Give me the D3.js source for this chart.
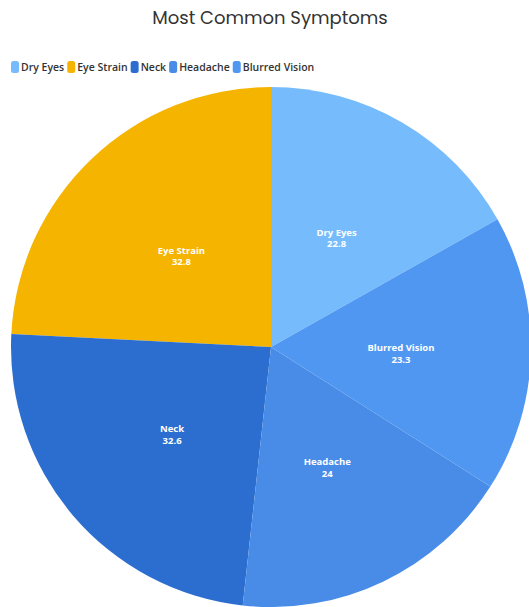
<!DOCTYPE html>
<html>
<head>
<meta charset="utf-8">
<title>Most Common Symptoms</title>
<script src="https://d3js.org/d3.v7.min.js"></script>
<style>
	body { margin: 0; background: #fff; }
	svg { display: block; }
</style>
</head>
<body>
<div id="chart"></div>
<script>
	// data
	const symptoms = ['Dry Eyes', 'Eye Strain', 'Neck', 'Headache', 'Blurred Vision'];
	const values = [22.8, 32.8, 32.6, 24, 23.3];
	const colors = ['#76bcfc', '#f5b400', '#2b6ecf', '#488ce7', '#5097f2'];

	const width = 529, height = 607;
	const cx = 271, cy = 347, radius = 260;

	const svg = d3.select('#chart').append('svg')
		.attr('width', width)
		.attr('height', height);

	const color = d3.scaleOrdinal().domain(symptoms).range(colors);

	const data = symptoms.map((s, i) => ({ name: s, value: values[i] }));

	// title
	svg.append('text')
		.attr('x', 270)
		.attr('y', 24)
		.attr('text-anchor', 'middle')
		.style('font-family', 'Poppins, "Noto Sans", sans-serif')
		.style('font-size', '18px')
		.style('fill', '#333')
		.text('Most Common Symptoms');

	// legend, laid out left to right
	const legend = svg.append('g').attr('transform', 'translate(11,67)');
	let lx = 0;
	symptoms.forEach(s => {
		const g = legend.append('g').attr('transform', `translate(${lx},0)`);
		g.append('rect')
			.attr('x', 0).attr('y', -6)
			.attr('width', 8).attr('height', 12)
			.attr('rx', 2.5)
			.style('fill', color(s));
		const t = g.append('text')
			.attr('x', 10).attr('y', 4)
			.style('font-family', '"Source Sans Pro", "Open Sans", sans-serif')
			.style('font-size', '10.5px')
			.style('font-weight', 600)
			.style('fill', '#333')
			.text(s);
		lx += 10 + t.node().getComputedTextLength() + 3;
	});

	// pie, sorted ascending clockwise from 12 o'clock
	const pie = d3.pie()
		.value(d => d.value)
		.sort((a, b) => a.value - b.value);

	const arc = d3.arc().innerRadius(0).outerRadius(radius);

	const g = svg.append('g').attr('transform', `translate(${cx},${cy})`);
	const arcs = pie(data);

	g.selectAll('path')
		.data(arcs)
		.enter().append('path')
		.attr('d', arc)
		.style('fill', d => color(d.data.name));

	// two-line labels at the slice centroids
	const labels = g.selectAll('.label')
		.data(arcs)
		.enter().append('g')
		.attr('class', 'label')
		.attr('transform', d => `translate(${arc.centroid(d)})`)
		.style('font-family', '"Source Sans Pro", "Open Sans", sans-serif')
		.style('font-size', '9.5px')
		.style('font-weight', 700)
		.style('fill', '#fff')
		.attr('text-anchor', 'middle');

	labels.append('text')
		.attr('y', 1)
		.text(d => d.data.name);
	labels.append('text')
		.attr('y', 12.5)
		.text(d => d.data.value);
</script>
</body>
</html>
